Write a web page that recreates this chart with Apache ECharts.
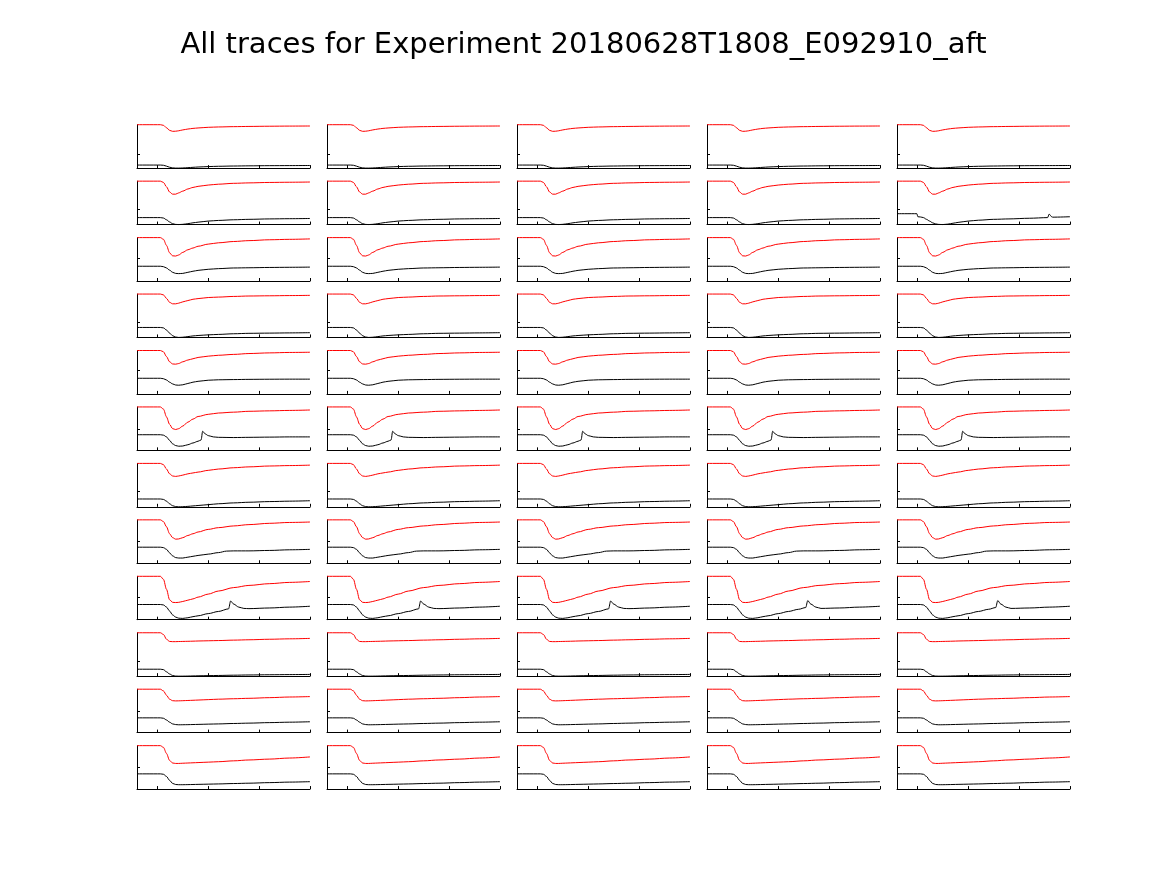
<!DOCTYPE html>
<html><head><meta charset="utf-8">
<script src="https://cdn.jsdelivr.net/npm/echarts@6/dist/echarts.min.js"></script>
<style>html,body{margin:0;padding:0;background:#fff}#c{width:1167px;height:875px}</style>
</head><body><div id="c"></div>
<script>
// ---- data (y as fraction of each panel's own range, x in samples) ----
const titleText = 'All traces for Experiment 20180628T1808_E092910_aft';
const xTicks = [0, 50, 100, 150];
const rowYTick = [0.33, 0.345, 0.52, 0.34, 0.55, 0.48, 0.35, 0.5, 0.52, 0.35, 0.5, 0.51];
const sampleX = [-20, 3, 6, 9, 12, 15, 18, 21, 25, 30, 35, 40, 50, 60, 75, 90, 110, 130, 150];

const red1  = [1,1,0.985,0.93,0.87,0.847,0.85,0.86,0.88,0.9,0.915,0.925,0.94,0.948,0.955,0.96,0.965,0.968,0.97];
const red2  = [1,1,0.97,0.87,0.75,0.7,0.7,0.73,0.77,0.82,0.855,0.88,0.91,0.93,0.95,0.96,0.97,0.975,0.98];
const red3  = [1,1,0.96,0.82,0.65,0.58,0.575,0.6,0.66,0.72,0.76,0.8,0.85,0.88,0.91,0.93,0.95,0.96,0.97];
const red4  = [1,1,0.98,0.9,0.81,0.775,0.775,0.79,0.82,0.85,0.88,0.895,0.92,0.93,0.945,0.955,0.96,0.965,0.97];
const red5  = [1,1,0.97,0.86,0.74,0.69,0.685,0.7,0.74,0.78,0.81,0.84,0.87,0.89,0.91,0.93,0.945,0.955,0.96];
const red6  = [1,1,0.95,0.77,0.6,0.5,0.48,0.5,0.56,0.65,0.72,0.78,0.83,0.86,0.88,0.9,0.91,0.92,0.93];
const red7  = [1,1,0.97,0.87,0.76,0.71,0.7,0.71,0.73,0.76,0.78,0.8,0.84,0.87,0.9,0.92,0.94,0.95,0.96];
const red8  = [1,1,0.96,0.84,0.68,0.59,0.555,0.56,0.59,0.64,0.68,0.72,0.78,0.82,0.86,0.89,0.92,0.94,0.95];
const red9  = [1,1,0.93,0.7,0.46,0.4,0.395,0.4,0.42,0.45,0.48,0.52,0.59,0.66,0.74,0.79,0.83,0.86,0.88];
const red10 = [1,1,0.96,0.85,0.8,0.795,0.795,0.798,0.8,0.803,0.806,0.81,0.815,0.82,0.83,0.838,0.85,0.86,0.87];
const red11 = [1,1,0.96,0.86,0.77,0.735,0.73,0.732,0.735,0.74,0.745,0.75,0.76,0.77,0.78,0.79,0.805,0.82,0.83];
const red12 = [1,1,0.96,0.82,0.66,0.6,0.59,0.59,0.595,0.6,0.605,0.61,0.62,0.63,0.65,0.67,0.69,0.715,0.74];

const blk1  = [0.07,0.07,0.065,0.045,0.02,0.005,0,0,0.003,0.01,0.018,0.025,0.035,0.042,0.048,0.052,0.056,0.058,0.06];
const blk2  = [0.16,0.16,0.15,0.11,0.06,0.02,0.003,0,0.005,0.02,0.04,0.055,0.08,0.095,0.11,0.12,0.13,0.135,0.14];
const blk3  = [0.34,0.34,0.33,0.3,0.25,0.2,0.175,0.17,0.175,0.2,0.225,0.245,0.27,0.285,0.3,0.305,0.312,0.316,0.32];
const blk4  = [0.23,0.23,0.22,0.17,0.1,0.04,0.01,0,0.005,0.02,0.035,0.045,0.06,0.07,0.085,0.095,0.1,0.105,0.11];
const blk5  = [0.36,0.36,0.35,0.32,0.27,0.23,0.205,0.2,0.21,0.24,0.27,0.29,0.315,0.325,0.33,0.335,0.338,0.34,0.34];
const blk7  = [0.18,0.18,0.17,0.13,0.07,0.025,0.005,0,0.002,0.01,0.02,0.03,0.05,0.07,0.09,0.105,0.12,0.13,0.14];
const blk10 = [0.16,0.16,0.15,0.1,0.05,0.015,0.002,0,0,0.002,0.005,0.008,0.012,0.016,0.022,0.027,0.032,0.036,0.04];
const blk11 = [0.34,0.34,0.33,0.29,0.24,0.2,0.185,0.18,0.181,0.183,0.186,0.189,0.195,0.2,0.21,0.218,0.23,0.24,0.25];
const blk12 = [0.35,0.35,0.34,0.29,0.2,0.13,0.105,0.1,0.1,0.102,0.105,0.108,0.113,0.118,0.127,0.135,0.148,0.16,0.17];

// traces with features off the common sample grid: explicit [x, y] pairs
const blk2c5 = [[-20,0.25],[-0.5,0.25],[0.5,0.18],[3,0.175],[6,0.16],[9,0.12],[12,0.08],[15,0.04],[18,0.015],[21,0.003],[25,0],[30,0.01],[35,0.03],[40,0.05],[50,0.08],[60,0.1],[75,0.12],[90,0.13],[110,0.145],[128,0.16],[129.5,0.24],[132,0.18],[133,0.17],[150,0.18]];
const blk6 = [[-20,0.36],[3,0.36],[6,0.35],[9,0.31],[12,0.23],[15,0.15],[18,0.11],[21,0.095],[25,0.1],[30,0.13],[35,0.17],[40,0.21],[43,0.24],[44.5,0.44],[47,0.38],[50,0.34],[55,0.31],[60,0.3],[75,0.295],[90,0.3],[110,0.305],[130,0.31],[150,0.31]];
const blk8 = [[-20,0.37],[3,0.37],[6,0.36],[9,0.32],[12,0.24],[15,0.17],[18,0.13],[21,0.12],[25,0.12],[30,0.14],[35,0.16],[40,0.18],[50,0.21],[60,0.245],[68,0.28],[75,0.285],[90,0.285],[110,0.295],[130,0.31],[150,0.32]];
const blk9 = [[-20,0.35],[3,0.35],[6,0.34],[9,0.29],[12,0.2],[15,0.11],[18,0.06],[21,0.035],[25,0.03],[30,0.045],[35,0.07],[40,0.09],[50,0.14],[60,0.19],[70,0.25],[72,0.43],[75,0.36],[80,0.29],[85,0.26],[90,0.255],[110,0.27],[130,0.29],[150,0.31]];
const blk9late = [[-20,0.35],[3,0.35],[6,0.34],[9,0.29],[12,0.2],[15,0.11],[18,0.06],[21,0.035],[25,0.03],[30,0.045],[35,0.07],[40,0.09],[50,0.14],[60,0.19],[70,0.24],[77,0.28],[79,0.44],[82,0.36],[87,0.29],[92,0.26],[110,0.27],[130,0.29],[150,0.31]];

const redRows = [red1, red2, red3, red4, red5, red6, red7, red8, red9, red10, red11, red12];
const blkRows = [blk1, blk2, blk3, blk4, blk5, blk6, blk7, blk8, blk9, blk10, blk11, blk12];
// panel-specific overrides: key "row,col" (0-based)
const blkOverride = {'1,4': blk2c5, '8,3': blk9late, '8,4': blk9late};

function toPairs(arr) {
  return Array.isArray(arr[0]) ? arr : arr.map((v, i) => [sampleX[i], v]);
}

// ---- layout ----
const nRows = 12, nCols = 5;
const colLeft0 = 137, colStep = 190, panelW = 173;
const rowTop0 = 124.7, rowStep = 56.45, panelH = 43.4;

const grids = [], xAxes = [], yAxes = [], series = [];
let k = 0;
for (let r = 0; r < nRows; r++) {
  for (let c = 0; c < nCols; c++) {
    grids.push({left: colLeft0 + c*colStep, top: rowTop0 + r*rowStep, width: panelW, height: panelH});
    xAxes.push({type:'value', gridIndex:k, min:-20, max:150,
      axisLine:{show:true, onZero:false, lineStyle:{color:'#000', width:1}},
      axisTick:{show:true, inside:true, length:3, customValues: xTicks, lineStyle:{color:'#000'}},
      axisLabel:{show:false}, splitLine:{show:false}});
    yAxes.push({type:'value', gridIndex:k, min:0, max:1,
      axisLine:{show:true, onZero:false, lineStyle:{color:'#000', width:1}},
      axisTick:{show:true, inside:true, length:3, customValues:[rowYTick[r]], lineStyle:{color:'#000'}},
      axisLabel:{show:false}, splitLine:{show:false}});
    const blk = blkOverride[r+','+c] || blkRows[r];
    series.push({type:'line', xAxisIndex:k, yAxisIndex:k, data: toPairs(redRows[r]), showSymbol:false, symbol:'none',
      smooth:0.3, smoothMonotone:'x', clip:false, lineStyle:{color:'#ff0000', width:1}, silent:true, animation:false});
    series.push({type:'line', xAxisIndex:k, yAxisIndex:k, data: toPairs(blk), showSymbol:false, symbol:'none',
      smooth:0.3, smoothMonotone:'x', clip:false, lineStyle:{color:'#000000', width:1}, silent:true, animation:false});
    k++;
  }
}

const chart = echarts.init(document.getElementById('c'), null, {renderer:'canvas'});
chart.setOption({
  backgroundColor:'#ffffff',
  animation:false,
  title:{text:titleText, left:'center', top:26,
    textStyle:{fontFamily:'DejaVu Sans', fontSize:29, fontWeight:'normal', color:'#000'}},
  grid: grids, xAxis: xAxes, yAxis: yAxes, series: series
});
</script></body></html>
